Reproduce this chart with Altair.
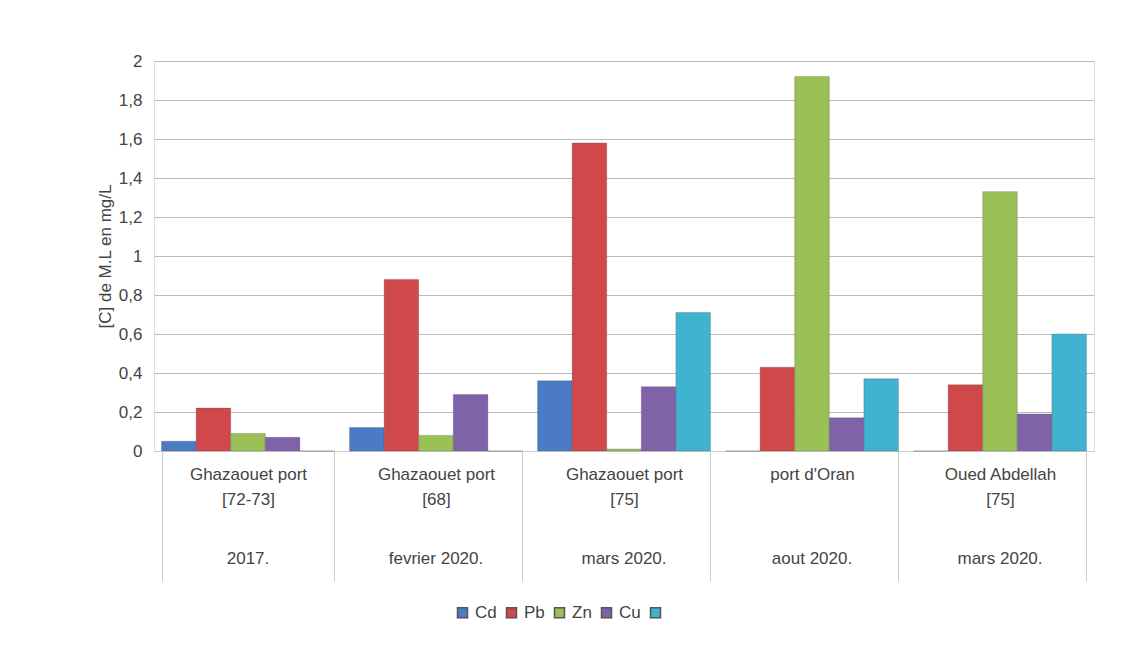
import altair as alt
import pandas as pd

sites = ["Ghazaouet port|[72-73]", "Ghazaouet port|[68]",
         "Ghazaouet port|[75]", "port d'Oran",
         "Oued Abdellah|[75]"]
dates = ["2017.", "fevrier 2020.", "mars 2020.", "aout 2020.", "mars 2020."]
series = ["Cd", "Pb", "Zn", "Cu", " "]
colors = ["#4a7bc4", "#d0484a", "#9bc156", "#8062a8", "#3fb3d0"]
cd = [0.05, 0.12, 0.36, 0.0, 0.0]
pb = [0.22, 0.88, 1.58, 0.43, 0.34]
zn = [0.09, 0.08, 0.01, 1.92, 1.33]
cu = [0.07, 0.29, 0.33, 0.17, 0.19]
other = [0.0, 0.0, 0.71, 0.37, 0.60]

rows = []
for name, vals in zip(series, [cd, pb, zn, cu, other]):
    for s, v in zip(sites, vals):
        rows.append({"site": s, "metal": name, "value": v})
df = pd.DataFrame(rows)
df_dates = pd.DataFrame({"site": sites, "date": dates})

H = 390
xenc = alt.X("site:N", sort=sites, title=None,
             scale=alt.Scale(paddingInner=0.08, paddingOuter=0.04),
             axis=alt.Axis(labelExpr="split(datum.label, '|')", labelAngle=0,
                           labelFontSize=17, labelColor="#444", labelLineHeight=25,
                           labelPadding=-115, tickBand="extent", tickSize=130,
                           tickColor="#ccc", domainColor="#ccc", labelBaseline="top"))

bars = alt.Chart(df).mark_bar(stroke="#555", strokeWidth=0.3).encode(
    x=xenc,
    xOffset=alt.XOffset("metal:N", sort=series),
    y=alt.Y("value:Q", title="[C] de M.L en mg/L",
            scale=alt.Scale(domain=[0, 2]),
            axis=alt.Axis(values=[0, 0.2, 0.4, 0.6, 0.8, 1, 1.2, 1.4, 1.6, 1.8, 2],
                          labelExpr="replace(format(datum.value, '.1~f'), '.', ',')",
                          labelFontSize=17, labelColor="#444", titleFontSize=17,
                          titleColor="#444", titleFontWeight="normal",
                          domain=False, ticks=False, gridColor="#bbb", labelPadding=12)),
    color=alt.Color("metal:N", sort=series,
                    scale=alt.Scale(domain=series, range=colors),
                    legend=alt.Legend(orient="none", legendX=300, legendY=H + 153, title=None,
                                      symbolType="square", labelFontSize=17, labelColor="#444",
                                      direction="horizontal", columnPadding=6)),
)

date_text = alt.Chart(df_dates).mark_text(fontSize=17, color="#444", baseline="middle").encode(
    x=alt.X("site:N", sort=sites),
    y=alt.value(H + 108),
    text="date:N",
)

chart = alt.layer(bars, date_text).properties(width=940, height=H)
chart = chart.configure_view(stroke=None).configure(font="Liberation Sans").properties(
    padding={"left": 88, "top": 44, "right": 30, "bottom": 0})
chart.save("out.html", embed_options={"renderer": "svg", "actions": False})
